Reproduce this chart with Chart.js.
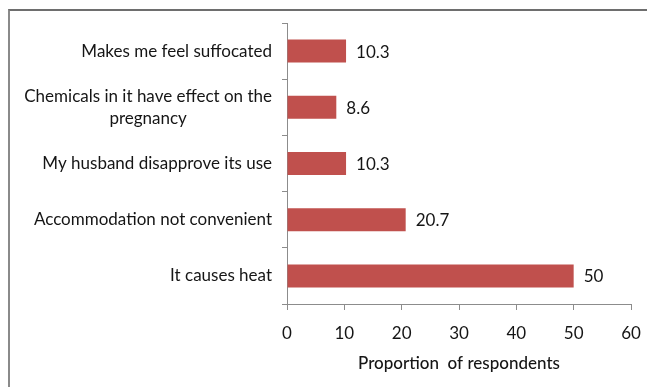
<!DOCTYPE html>
<html>
<head>
<meta charset="utf-8">
<script src="https://cdn.jsdelivr.net/npm/chart.js@4/dist/chart.umd.min.js"></script>
<style>
  html, body { margin: 0; padding: 0; background: #fff; }
  #wrap { position: relative; width: 647px; height: 387px; overflow: hidden; }
  #frame { position: absolute; left: 8px; top: 9px; width: 647px; height: 400px;
           border-left: 2px solid #8a8a8a; border-top: 2px solid #6e6e6e; box-sizing: border-box; }
  canvas { position: absolute; left: 0; top: 0; }
</style>
</head>
<body>
<div id="wrap">
  <div id="frame"></div>
  <canvas id="c" width="647" height="387"></canvas>
</div>
<script>
const categories = [
  ["Makes me feel suffocated"],
  ["Chemicals in it have effect on the", "pregnancy"],
  ["My husband disapprove its use"],
  ["Accommodation not convenient"],
  ["It causes heat"]
];
const values = [10.3, 8.6, 10.3, 20.7, 50];
const valueLabels = ["10.3", "8.6", "10.3", "20.7", "50"];
const axisMin = 0, axisMax = 60, axisStep = 10;
const xTitle = "Proportion  of respondents";

const FONT = "Lato, 'Open Sans', sans-serif";
const TEXT = "#151515";
const AXIS = "#8c8c8c";

const labelPlugin = {
  id: 'customLabels',
  afterDraw(chart) {
    const ctx = chart.ctx;
    const ys = chart.scales.y;
    const meta = chart.getDatasetMeta(0);
    ctx.save();
    ctx.fillStyle = TEXT;
    ctx.textBaseline = 'middle';
    ctx.font = "17px " + FONT;
    const rightEdge = 272, lineH = 22;
    categories.forEach((lines, i) => {
      const cy = ys.getPixelForTick(i);
      const widths = lines.map(l => ctx.measureText(l).width);
      const bw = Math.max(...widths);
      const cx = rightEdge - bw / 2;
      ctx.textAlign = 'center';
      lines.forEach((l, k) => {
        const y = cy + (k - (lines.length - 1) / 2) * lineH;
        ctx.fillText(l, cx, y);
      });
    });
    ctx.font = "17px " + FONT;
    ctx.textAlign = 'left';
    meta.data.forEach((bar, i) => {
      ctx.fillText(valueLabels[i], bar.x + 10, bar.y + 1);
    });
    ctx.restore();
  }
};

new Chart(document.getElementById('c'), {
  type: 'bar',
  data: {
    labels: categories,
    datasets: [{
      data: values,
      backgroundColor: '#C0504D',
      borderWidth: 0,
      categoryPercentage: 1,
      barPercentage: 0.41
    }]
  },
  options: {
    indexAxis: 'y',
    responsive: false,
    animation: false,
    events: [],
    layout: { padding: { left: 0, right: 16, top: 23, bottom: 0 } },
    plugins: { legend: { display: false }, tooltip: { enabled: false } },
    scales: {
      y: {
        afterFit(s) { s.width = 287; s.paddingTop = 0; s.paddingBottom = 0; },
        grid: { display: true, drawOnChartArea: false, drawTicks: true, tickLength: 5,
                color: AXIS, offset: true },
        border: { display: true, color: AXIS, width: 1 },
        ticks: { color: 'transparent', font: { size: 15, family: FONT } }
      },
      x: {
        min: axisMin, max: axisMax,
        afterFit(s) { s.height = 83; s.paddingLeft = 0; s.paddingRight = 0; },
        grid: { display: true, drawOnChartArea: false, drawTicks: true, tickLength: 6, color: AXIS },
        border: { display: true, color: AXIS, width: 1 },
        ticks: { stepSize: axisStep, color: TEXT, padding: 13, maxRotation: 0,
                 font: { size: 17, family: FONT } },
        title: { display: true, text: xTitle, color: TEXT,
                 font: { size: 17, family: FONT, weight: '500' },
                 padding: { top: 0, bottom: 13 } }
      }
    }
  },
  plugins: [labelPlugin]
});
</script>
</body>
</html>
